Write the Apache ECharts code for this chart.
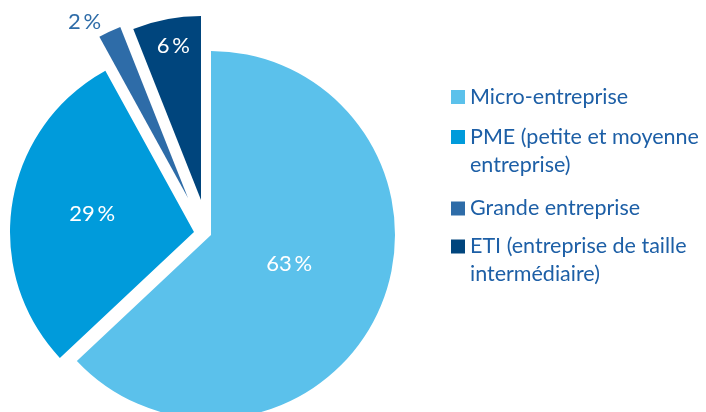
<!DOCTYPE html>
<html>
<head>
<meta charset="utf-8">
<script src="https://cdn.jsdelivr.net/npm/echarts@6/dist/echarts.min.js"></script>
<style>html,body{margin:0;padding:0;background:#fff}#c{width:706px;height:412px}</style>
</head>
<body>
<div id="c"></div>
<script>
const categories = ['Micro-entreprise', 'PME (petite et moyenne\nentreprise)', 'Grande entreprise', 'ETI (entreprise de taille\nintermédiaire)'];
const values = [63, 29, 2, 6];
const colors = ['#5BC1EB', '#009BDB', '#2E6CA8', '#00457D'];
const labelColors = ['#ffffff', '#ffffff', '#2E6CA8', '#ffffff'];

// layout of each exploded slice (vertex position) and label nudges
const centers = [[211, 235], [194, 232], [188, 198], [201, 200]];
const labelShift = [[-9, -9], [-8, -3], [-63, -90], [-10, -61]];
const legendTops = [83, 95, 194.5, 204.5];
const FONT = 'Lato, "Open Sans", sans-serif';

const chart = echarts.init(document.getElementById('c'), null, {renderer: 'canvas'});

const series = categories.map((_, si) => ({
  type: 'pie',
  center: centers[si],
  radius: [0, 184],
  startAngle: 90,
  clockwise: true,
  silent: true,
  avoidLabelOverlap: false,
  emphasis: {disabled: true},
  labelLine: {show: false},
  label: {show: false},
  labelLayout: (p) => p.dataIndex === si ? {dx: labelShift[si][0], dy: labelShift[si][1]} : {},
  data: categories.map((name, i) => ({
    name: name,
    value: values[i],
    itemStyle: {color: i === si ? colors[i] : 'rgba(0,0,0,0)'},
    label: i === si ? {
      show: true,
      position: 'inside',
      formatter: '{c}\u2009%',
      color: labelColors[i],
      fontSize: 22,
      fontFamily: FONT
    } : {show: false}
  }))
}));

const legends = categories.map((name, i) => {
  const twoLine = name.indexOf('\n') >= 0;
  return {
    orient: 'vertical',
    left: 451,
    top: legendTops[i],
    padding: 0,
    itemWidth: 14,
    itemHeight: 14,
    icon: 'rect',
    selectedMode: false,
    formatter: (n) => twoLine ? '\n' + n : n,
    textStyle: {
      fontSize: 21.5,
      fontFamily: FONT,
      color: '#1D5FA6',
      lineHeight: 28
    },
    data: [{name: name, itemStyle: {color: colors[i]}}]
  };
});

chart.setOption({
  animation: false,
  backgroundColor: '#ffffff',
  legend: legends,
  series: series
});
</script>
</body>
</html>
